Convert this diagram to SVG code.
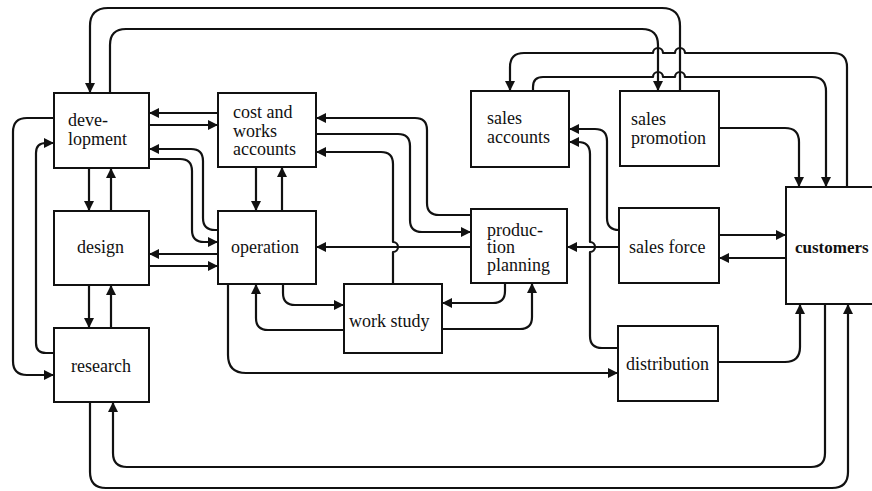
<svg xmlns="http://www.w3.org/2000/svg" width="872" height="491" viewBox="0 0 872 491">
  <style>
    .box { fill: #fff; stroke: #111; stroke-width: 2; }
    .lbl { font-family: "Liberation Serif", "Times New Roman", serif; font-size: 18px; fill: #111; }
    .bold { font-weight: bold; font-size: 17px; }
    .wire { fill: none; stroke: #111; stroke-width: 2.2; stroke-linejoin: round; }
    .arr { marker-end: url(#ah); }
  </style>
  <defs>
    <marker id="ah" markerUnits="userSpaceOnUse" viewBox="0 0 10 10" markerWidth="10" markerHeight="10" refX="10" refY="5" orient="auto">
      <path d="M0,0 L10,5 L0,10 z" fill="#111"/>
    </marker>
  </defs>
  <rect width="872" height="491" fill="#fff"/>

  <!-- departments -->
  <g id="development">
    <rect class="box" x="54" y="93" width="95" height="75"/>
    <text class="lbl" x="68" y="126">deve-</text>
    <text class="lbl" x="68" y="145">lopment</text>
  </g>
  <g id="cost-works-accounts">
    <rect class="box" x="218" y="93" width="98" height="74"/>
    <text class="lbl" x="233" y="118">cost and</text>
    <text class="lbl" x="233" y="137">works</text>
    <text class="lbl" x="233" y="155">accounts</text>
  </g>
  <g id="sales-accounts">
    <rect class="box" x="471" y="91" width="98" height="76"/>
    <text class="lbl" x="487" y="124">sales</text>
    <text class="lbl" x="487" y="143">accounts</text>
  </g>
  <g id="sales-promotion">
    <rect class="box" x="620" y="91" width="99" height="75"/>
    <text class="lbl" x="631" y="125">sales</text>
    <text class="lbl" x="631" y="144">promotion</text>
  </g>
  <g id="customers">
    <rect class="box" x="786" y="187" width="88" height="117"/>
    <text class="lbl bold" x="795" y="253">customers</text>
  </g>
  <g id="design">
    <rect class="box" x="54" y="211" width="95" height="74"/>
    <text class="lbl" x="77" y="253">design</text>
  </g>
  <g id="operation">
    <rect class="box" x="218" y="211" width="98" height="73"/>
    <text class="lbl" x="231" y="253">operation</text>
  </g>
  <g id="production-planning">
    <rect class="box" x="471" y="209" width="96" height="74"/>
    <text class="lbl" x="487" y="236">produc-</text>
    <text class="lbl" x="487" y="253">tion</text>
    <text class="lbl" x="487" y="271">planning</text>
  </g>
  <g id="sales-force">
    <rect class="box" x="619" y="208" width="100" height="75"/>
    <text class="lbl" x="629" y="253">sales force</text>
  </g>
  <g id="work-study">
    <rect class="box" x="344" y="284" width="98" height="69"/>
    <text class="lbl" x="349" y="327">work study</text>
  </g>
  <g id="research">
    <rect class="box" x="54" y="328" width="95" height="74"/>
    <text class="lbl" x="71" y="372">research</text>
  </g>
  <g id="distribution">
    <rect class="box" x="618" y="326" width="100" height="75"/>
    <text class="lbl" x="626" y="370">distribution</text>
  </g>

  <!-- flows between departments -->
  <g id="connectors">
    <!-- long loops over the top -->
    <path class="wire arr" d="M680,91 V26 Q680,8 662,8 H108 Q90,8 90,26 V93"/>
    <path class="wire arr" d="M110,93 V45 Q110,29 126,29 H642 Q658,29 658,45 V91"/>
    <path class="wire arr" d="M847,187 V67 Q847,53 833,53 H685 A5,5 0 0 0 675,53 H663 A5,5 0 0 0 653,53 H524 Q510,53 510,67 V91"/>
    <path class="wire arr" d="M533,91 V87 Q533,77 543,77 H653 A5,5 0 0 1 663,77 H675 A5,5 0 0 1 685,77 H812 Q826,77 826,91 V187"/>
    <path class="wire arr" d="M719,128 H785 Q799,128 799,142 V187"/>

    <!-- loops under the bottom -->
    <path class="wire arr" d="M718,362 H785 Q800,362 800,347 V304"/>
    <path class="wire arr" d="M825,304 V453 Q825,467 811,467 H127 Q113,467 113,453 V402"/>
    <path class="wire arr" d="M90,402 V472 Q90,488 106,488 H832 Q848,488 848,472 V304"/>

    <!-- left side -->
    <path class="wire arr" d="M54,118 H27 Q13,118 13,132 V361 Q13,375 27,375 H54"/>
    <path class="wire arr" d="M54,353 H46 Q36,353 36,343 V153 Q36,143 46,143 H54"/>
    <path class="wire arr" d="M89,168 V211"/>
    <path class="wire arr" d="M111,211 V168"/>
    <path class="wire arr" d="M89,285 V328"/>
    <path class="wire arr" d="M111,328 V285"/>

    <!-- development / design with cost and operation -->
    <path class="wire arr" d="M218,113 H149"/>
    <path class="wire arr" d="M149,125 H218"/>
    <path class="wire arr" d="M218,230 H215 Q203,230 203,218 V161 Q203,149 191,149 H149"/>
    <path class="wire arr" d="M149,159 H180 Q192,159 192,171 V230 Q192,242 204,242 H218"/>
    <path class="wire arr" d="M218,254 H149"/>
    <path class="wire arr" d="M149,266 H218"/>
    <path class="wire arr" d="M256,167 V211"/>
    <path class="wire arr" d="M282,211 V167"/>

    <!-- production planning, cost accounts and work study -->
    <path class="wire arr" d="M471,215 H439 Q427,215 427,203 V130 Q427,118 415,118 H316"/>
    <path class="wire arr" d="M316,134 H398 Q410,134 410,146 V220 Q410,232 422,232 H471"/>
    <path class="wire arr" d="M393,284 V252 A5,5 0 0 0 393,242 V164 Q393,152 381,152 H316"/>
    <path class="wire arr" d="M471,247 H316"/>
    <path class="wire arr" d="M283,284 V293 Q283,305 295,305 H344"/>
    <path class="wire arr" d="M344,330 H268 Q256,330 256,318 V284"/>
    <path class="wire arr" d="M505,283 V291 Q505,303 493,303 H442"/>
    <path class="wire arr" d="M442,329 H520 Q532,329 532,317 V283"/>
    <path class="wire arr" d="M228,284 V355 Q228,373 246,373 H618"/>

    <!-- sales force links -->
    <path class="wire arr" d="M719,235 H786"/>
    <path class="wire arr" d="M786,258 H719"/>
    <path class="wire arr" d="M619,230 Q607,230 607,218 V141 Q607,129 595,129 H569"/>
    <path class="wire arr" d="M618,348 H602 Q590,348 590,336 V252 A5,5 0 0 0 590,242 V154 Q590,142 578,142 H569"/>
    <path class="wire arr" d="M619,247 H567"/>
  </g>
</svg>
